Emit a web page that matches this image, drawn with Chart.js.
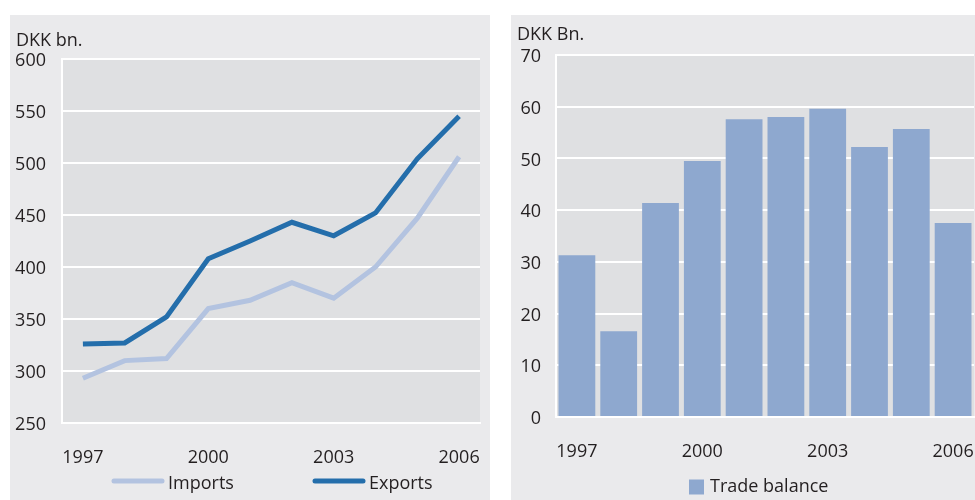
<!DOCTYPE html>
<html>
<head>
<meta charset="utf-8">
<script src="https://cdn.jsdelivr.net/npm/chart.js@4/dist/chart.umd.min.js"></script>
<style>
  html, body { margin: 0; padding: 0; background: #ffffff; width: 975px; height: 500px; overflow: hidden; position: relative; }
  .panel { position: absolute; background: #EAEAEC; }
  #p1 { left: 10px; top: 15px; width: 480px; height: 485px; }
  #p2 { left: 511px; top: 15px; width: 464px; height: 485px; }
  .cw { position: absolute; }
  #w1 { left: 10px; top: 15px; width: 501px; height: 485px; }
  #w2 { left: 511px; top: 15px; width: 490px; height: 485px; }
</style>
</head>
<body>
<div class="panel" id="p1"></div>
<div class="panel" id="p2"></div>
<div class="cw" id="w1"><canvas id="c1" width="501" height="485"></canvas></div>
<div class="cw" id="w2"><canvas id="c2" width="490" height="485"></canvas></div>
<script>
// ---- Data ----
const years = ['1997','1998','1999','2000','2001','2002','2003','2004','2005','2006'];
const shownYears = ['1997','2000','2003','2006'];
const imports = [293, 310, 312, 360, 368, 385, 370, 400, 447, 506];
const exports = [326, 327, 352, 408, 425, 443, 430, 452, 504, 545];
const tradeBalance = [31.3, 16.6, 41.4, 49.5, 57.6, 58.0, 59.6, 52.2, 55.7, 37.5];
const leftUnit = 'DKK bn.';
const rightUnit = 'DKK Bn.';

const FONT = "'Open Sans', 'DejaVu Sans', sans-serif";
const TXT = '#231F20';
Chart.defaults.font.family = FONT;
Chart.defaults.font.size = 18;
Chart.defaults.color = TXT;
Chart.defaults.animation = false;

const decor = {
  id: 'decor',
  beforeDraw(chart, args, opts) {
    const {ctx, chartArea: a} = chart;
    ctx.save();
    ctx.fillStyle = '#DFE0E2';
    ctx.fillRect(a.left, a.top, a.right - a.left, a.bottom - a.top);
    ctx.restore();
  },
  afterDatasetsDraw(chart, args, opts) {
    const {ctx, chartArea: a} = chart;
    ctx.save();
    ctx.fillStyle = TXT;
    ctx.font = '18px ' + FONT;
    ctx.textBaseline = 'alphabetic';
    ctx.textAlign = 'left';
    ctx.fillText(opts.unit, opts.unitX, opts.unitY);
    // legend
    ctx.textBaseline = 'middle';
    chart.data.datasets.forEach((ds, i) => {
      const it = opts.items[i];
      if (opts.kind === 'line') {
        ctx.strokeStyle = ds.borderColor;
        ctx.lineWidth = 5;
        ctx.lineCap = 'round';
        ctx.beginPath();
        ctx.moveTo(it.x + 2, it.y);
        ctx.lineTo(it.x + 50, it.y);
        ctx.stroke();
        ctx.fillText(ds.label, it.x + 56, it.y + 3);
      } else {
        ctx.fillStyle = ds.backgroundColor;
        ctx.fillRect(it.x, it.y - 7.5, 15, 15);
        ctx.fillStyle = TXT;
        ctx.fillText(ds.label, it.x + 21, it.y);
      }
    });
    ctx.restore();
  }
};

function xTick(val, idx) {
  const lab = years[idx];
  return shownYears.includes(lab) ? lab : '';
}

new Chart(document.getElementById('c1'), {
  type: 'line',
  data: {
    labels: years,
    datasets: [
      { label: 'Imports', data: imports, borderColor: '#B3C3E0', backgroundColor: '#B3C3E0', borderWidth: 5, pointRadius: 0, tension: 0, borderJoinStyle: 'miter' },
      { label: 'Exports', data: exports, borderColor: '#246EAB', backgroundColor: '#246EAB', borderWidth: 5, pointRadius: 0, tension: 0, borderJoinStyle: 'miter' }
    ]
  },
  options: {
    responsive: false,
    layout: { padding: { left: 0, top: 44, right: 31, bottom: 32 } },
    plugins: {
      legend: { display: false },
      tooltip: { enabled: false },
      decor: { unit: leftUnit, unitX: 6, unitY: 31, kind: 'line',
               items: [{x: 102, y: 466}, {x: 303, y: 466}] }
    },
    scales: {
      x: {
        offset: true,
        grid: { display: false, drawTicks: false },
        border: { display: true, color: '#FFFFFF', width: 2 },
        ticks: { autoSkip: false, maxRotation: 0, padding: 24, callback: xTick },
        afterFit(s) { s.height = 45; }
      },
      y: {
        min: 250, max: 600,
        grid: { color: '#FFFFFF', lineWidth: 2, drawTicks: false },
        border: { display: true, color: '#FFFFFF', width: 2 },
        ticks: { stepSize: 50, padding: 16, labelOffset: 2 },
        afterFit(s) { s.width = 52; }
      }
    }
  },
  plugins: [decor]
});

new Chart(document.getElementById('c2'), {
  type: 'bar',
  data: {
    labels: years,
    datasets: [
      { label: 'Trade balance', data: tradeBalance, backgroundColor: '#8EA8CF', borderWidth: 0, categoryPercentage: 1, barPercentage: 0.88 }
    ]
  },
  options: {
    responsive: false,
    layout: { padding: { left: 0, top: 40, right: 27, bottom: 38 } },
    plugins: {
      legend: { display: false },
      tooltip: { enabled: false },
      decor: { unit: rightUnit, unitX: 6, unitY: 25, kind: 'bar',
               items: [{x: 178, y: 472}] }
    },
    scales: {
      x: {
        grid: { display: false, drawTicks: false },
        border: { display: true, color: '#FFFFFF', width: 2 },
        ticks: { autoSkip: false, maxRotation: 0, padding: 24, callback: xTick },
        afterFit(s) { s.height = 45; }
      },
      y: {
        min: 0, max: 70,
        grid: { color: '#FFFFFF', lineWidth: 2, drawTicks: false },
        border: { display: true, color: '#FFFFFF', width: 2 },
        ticks: { stepSize: 10, padding: 15, labelOffset: 2 },
        afterFit(s) { s.width = 45; }
      }
    }
  },
  plugins: [decor]
});
</script>
</body>
</html>
